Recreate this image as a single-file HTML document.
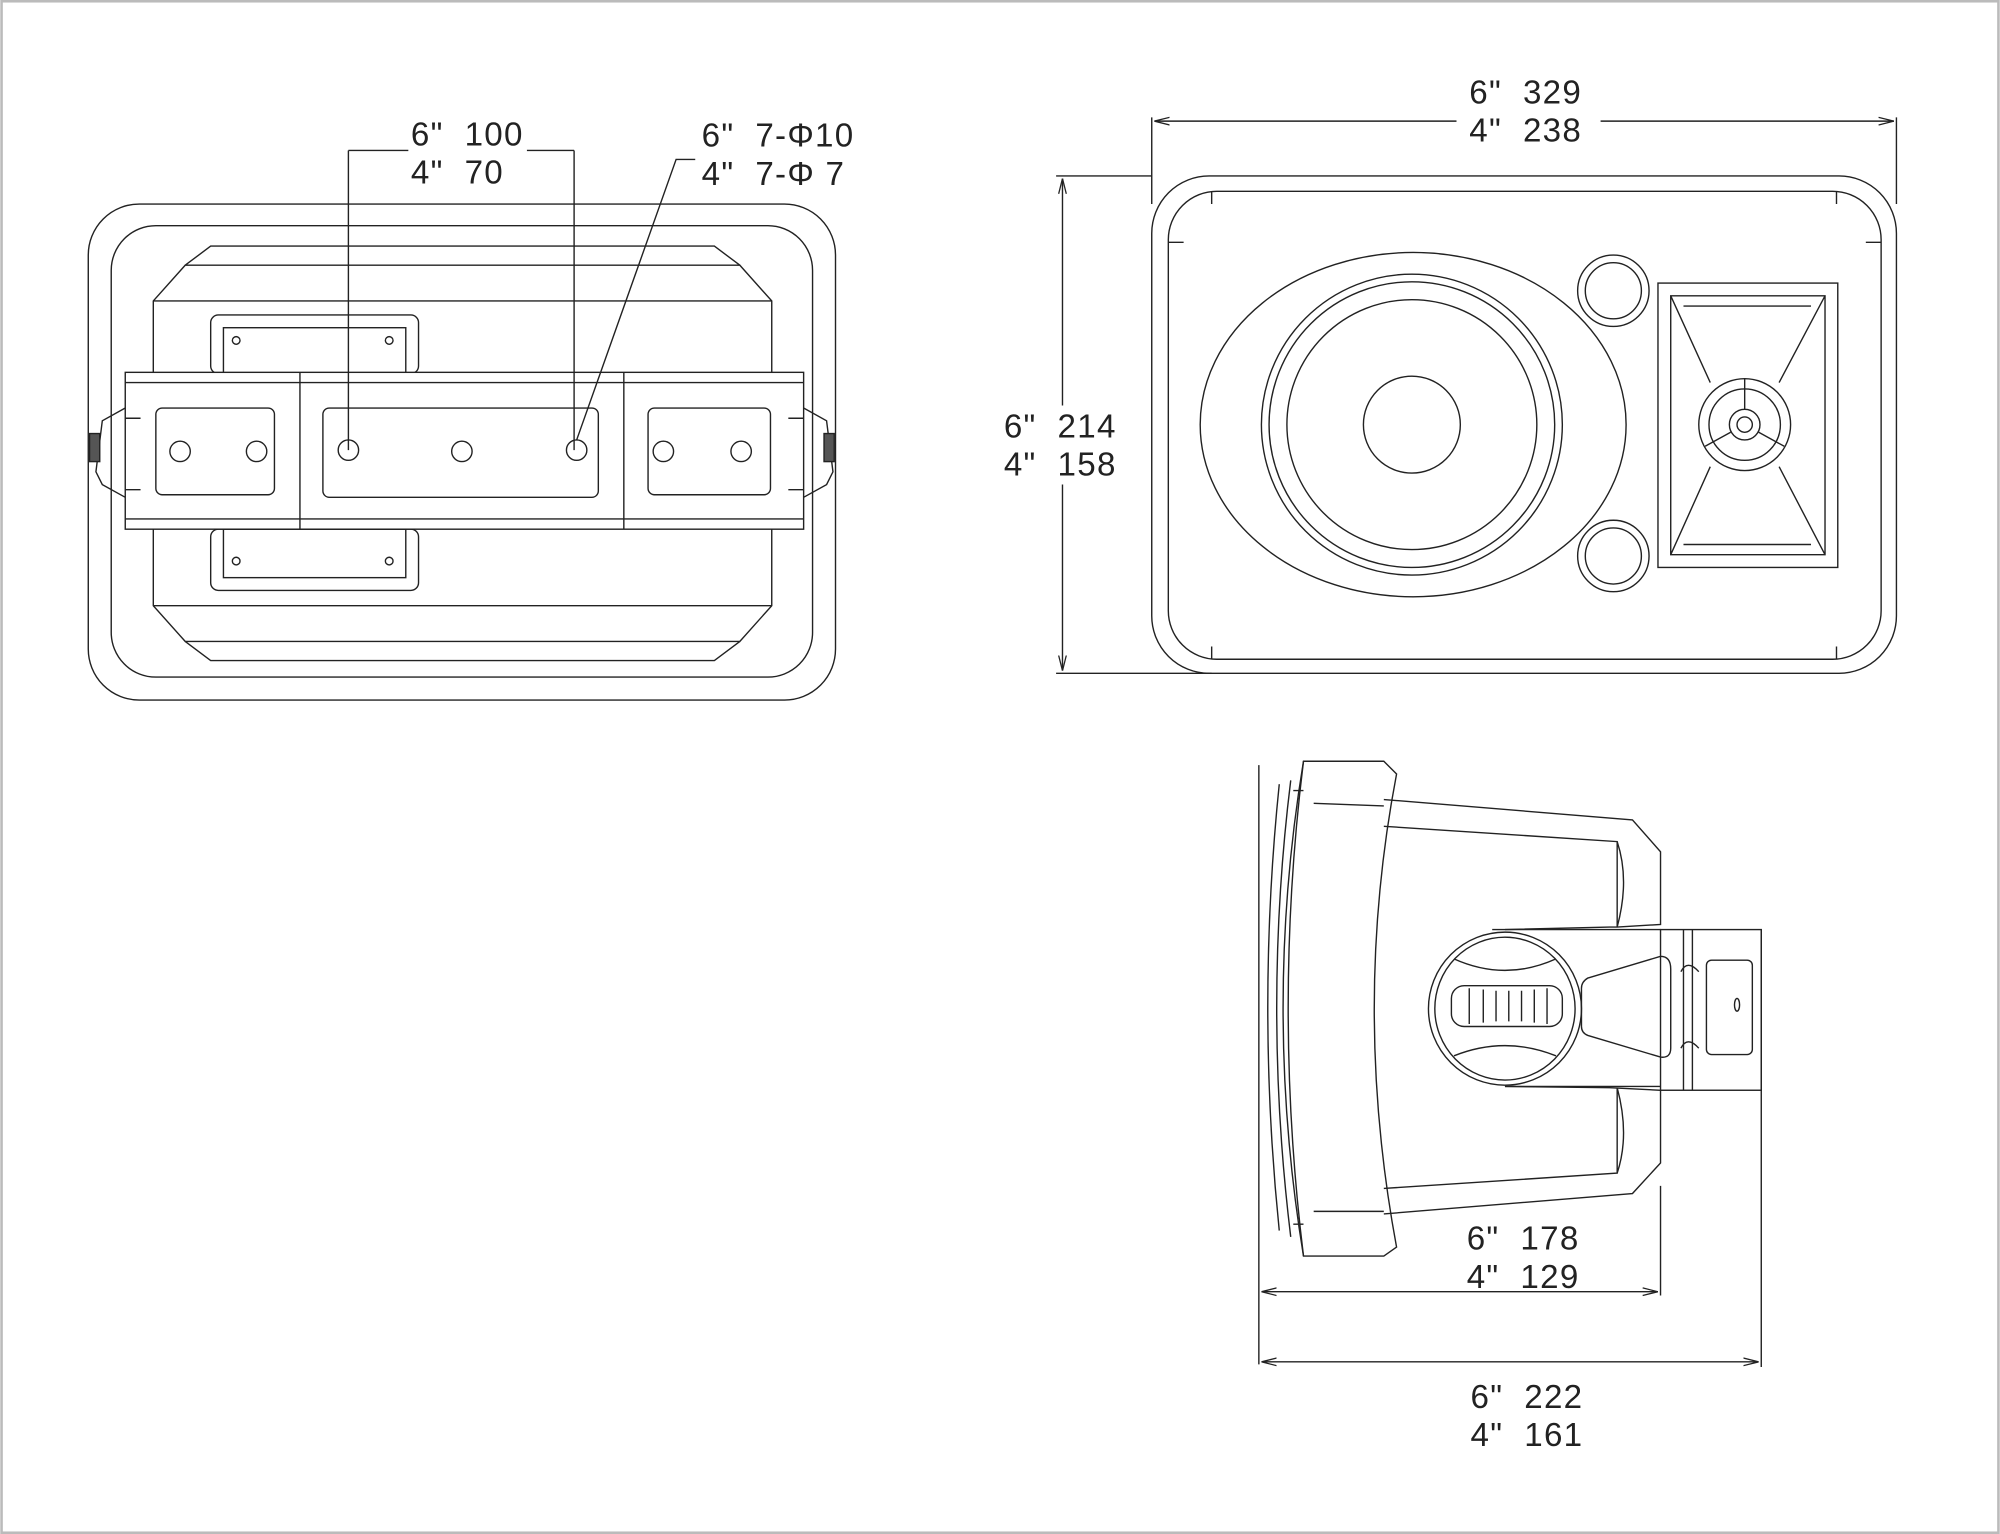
<!DOCTYPE html>
<html><head><meta charset="utf-8"><style>
html,body{margin:0;padding:0;background:#fff}
svg{display:block}
text{font-family:"Liberation Sans",Arial,sans-serif;font-size:26px;fill:#222;letter-spacing:1px}
</style></head><body>
<svg width="2000" height="1534" viewBox="0 0 1568 1203" xmlns="http://www.w3.org/2000/svg">
<defs><marker id="a" markerWidth="12" markerHeight="8" refX="12" refY="4" orient="auto-start-reverse" markerUnits="userSpaceOnUse"><path d="M0,1 L12,4 L0,7" fill="none" stroke="#222" stroke-width="1"/></marker></defs>
<rect x="1" y="1" width="1566" height="1201" fill="none" stroke="#bbb" stroke-width="2"/>
<g fill="none" stroke="#222" stroke-width="1.1">
<!-- back view -->
<rect x="69" y="160" width="586" height="389" rx="40"/>
<rect x="87" y="177" width="550" height="354" rx="35"/>
<path d="M120 236 L145 208 L580 208 L605 236 L605 475 L580 503 L145 503 L120 475 Z"/>
<path d="M145 208 L165 193 L560 193 L580 208 M145 503 L165 518 L560 518 L580 503"/>
<path d="M120 236 L605 236 M120 475 L605 475"/>
<rect x="165" y="247" width="163" height="46" rx="6"/><rect x="175" y="257" width="143" height="36"/>
<rect x="165" y="415" width="163" height="48" rx="6"/><rect x="175" y="415" width="143" height="38"/>
<circle cx="185" cy="267" r="3"/><circle cx="305" cy="267" r="3"/><circle cx="185" cy="440" r="3"/><circle cx="305" cy="440" r="3"/>
<rect x="98" y="292" width="532" height="123" fill="#fff"/>
<path d="M235 292 V415 M489 292 V415 M98 300 H630 M98 407 H630"/>
<rect x="122" y="320" width="93" height="68" rx="5"/><rect x="253" y="320" width="216" height="70" rx="5"/><rect x="508" y="320" width="96" height="68" rx="5"/>
<circle cx="141" cy="354" r="8"/><circle cx="201" cy="354" r="8"/><circle cx="273" cy="353" r="8"/><circle cx="362" cy="354" r="8"/><circle cx="452" cy="353" r="8"/><circle cx="520" cy="354" r="8"/><circle cx="581" cy="354" r="8"/>
<path d="M98 320 L80 330 L75 370 L80 380 L98 390 M630 320 L648 330 L653 370 L648 380 L630 390"/>
<rect x="70" y="340" width="8" height="22" fill="#555"/><rect x="646" y="340" width="8" height="22" fill="#555"/>
<path d="M98 328 H110 M98 384 H110 M618 328 H630 M618 384 H630"/>
<!-- dims back -->
<path d="M273 118 V353 M450 118 V353 M273 118 H320 M413 118 H450"/>
<path d="M452 345 L530 125 H545"/>
<!-- front view -->
<rect x="903" y="138" width="584" height="390" rx="45"/>
<rect x="916" y="150" width="559" height="367" rx="38"/>
<path d="M950 150 V160 M1440 150 V160 M950 517 V507 M1440 517 V507 M916 190 H928 M1475 190 H1463"/>
<ellipse cx="1108" cy="333" rx="167" ry="135"/>
<circle cx="1107" cy="333" r="118"/><circle cx="1107" cy="333" r="112"/><circle cx="1107" cy="333" r="98"/><circle cx="1107" cy="333" r="38"/>
<circle cx="1265" cy="228" r="28"/><circle cx="1265" cy="228" r="22"/><circle cx="1265" cy="436" r="28"/><circle cx="1265" cy="436" r="22"/>
<rect x="1300" y="222" width="141" height="223"/><path d="M1310 232 H1431 V435 H1310 Z M1310 232 L1341 300 M1431 232 L1395 300 M1310 435 L1341 366 M1431 435 L1395 366 M1320 240 L1420 240 M1320 427 L1420 427"/>
<circle cx="1368" cy="333" r="36"/><circle cx="1368" cy="333" r="28"/><circle cx="1368" cy="333" r="12"/><circle cx="1368" cy="333" r="6"/>
<path d="M1368 321 V297 M1357 339 L1337 350 M1379 339 L1399 350"/>
<!-- front dims -->
<path d="M903 92 V160 M1487 92 V160"/>
<path d="M905 95 H1142" marker-start="url(#a)"/><path d="M1255 95 H1485" marker-end="url(#a)"/>
<path d="M828 138 H903 M828 528 H950"/>
<path d="M833 140 V318" marker-start="url(#a)"/><path d="M833 380 V526" marker-end="url(#a)"/>
<!-- side view -->
<path d="M1022 597 L1085 597 L1095 607 Q1060 790 1095 978 L1085 985 L1022 985 Q990 790 1022 597 Z"/>
<path d="M1022 597 Q998 790 1022 985 M1012 612 Q990 790 1012 970 M1003 615 Q985 790 1003 965 M1030 630 L1085 632 M1030 950 L1085 950 M1014 620 L1022 620 M1014 960 L1022 960"/>
<path d="M1085 627 L1280 643 L1302 668 V725 L1268 727 H1262 L1180 729 M1085 952 L1280 936 L1302 912 V855 L1262 853 L1180 852"/>
<path d="M1085 648 L1268 660 V727 M1085 932 L1268 920 V853 M1268 660 Q1278 690 1268 727 M1268 920 Q1278 890 1268 853"/>
<rect x="1302" y="729" width="79" height="126" fill="#fff"/>
<path d="M1180 729 H1302 M1180 852 H1302 M1170 729 Q1240 729 1302 729 M1320 729 V855 M1327 729 V855"/>
<ellipse cx="1180" cy="791" rx="60" ry="60"/><ellipse cx="1180" cy="791" rx="55" ry="56"/>
<path d="M1140 752 Q1180 770 1220 752 M1140 828 Q1180 812 1220 828"/>
<rect x="1138" y="773" width="87" height="32" rx="10"/><path d="M1152 775 V803 M1163 776 V802 M1173 777 V801 M1183 777 V801 M1193 777 V801 M1203 776 V802 M1213 775 V803"/>
<path d="M1245 767 L1302 750 Q1310 750 1310 760 V822 Q1310 830 1302 829 L1245 812 Q1240 810 1240 805 V775 Q1240 770 1245 767 Z"/>
<rect x="1338" y="753" width="36" height="74" rx="4"/><ellipse cx="1362" cy="788" rx="2" ry="5"/>
<path d="M1318 762 Q1323 752 1332 762 M1318 822 Q1323 812 1332 822"/>
<!-- side dims -->
<path d="M987 600 V1070 M1302 930 V1016 M1381 729 V1072"/>
<path d="M989 1013 H1300" marker-start="url(#a)" marker-end="url(#a)"/>
<path d="M989 1068 H1379" marker-start="url(#a)" marker-end="url(#a)"/>
</g>
<g>
<text x="322" y="114">6"&#160;&#160;100</text><text x="322" y="144">4"&#160;&#160;70</text>
<text x="550" y="115">6"&#160;&#160;7-Φ10</text><text x="550" y="145">4"&#160;&#160;7-Φ 7</text>
<text x="1152" y="81">6"&#160;&#160;329</text><text x="1152" y="111">4"&#160;&#160;238</text>
<text x="787" y="343">6"&#160;&#160;214</text><text x="787" y="373">4"&#160;&#160;158</text>
<text x="1150" y="980">6"&#160;&#160;178</text><text x="1150" y="1010">4"&#160;&#160;129</text>
<text x="1153" y="1104">6"&#160;&#160;222</text><text x="1153" y="1134">4"&#160;&#160;161</text>
</g>
</svg>
</body></html>
